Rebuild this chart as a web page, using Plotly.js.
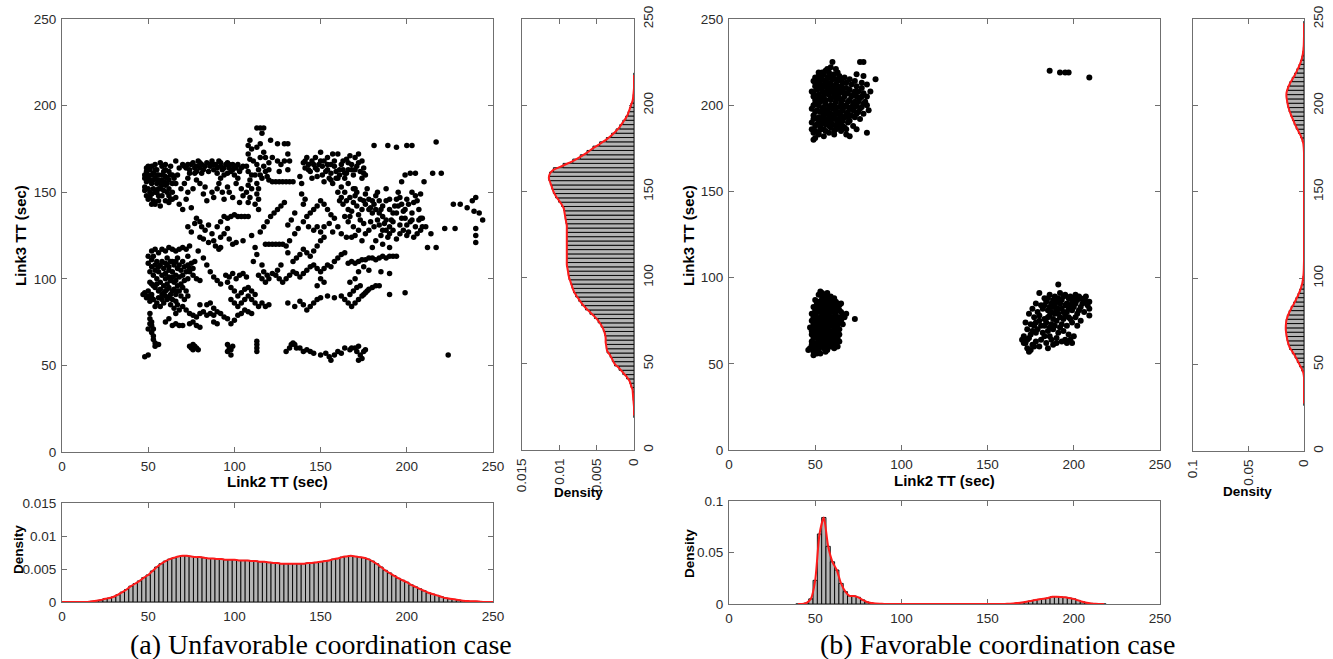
<!DOCTYPE html>
<html><head><meta charset="utf-8">
<script src="https://cdn.plot.ly/plotly-3.0.1.min.js"></script>
<style>html,body{margin:0;padding:0;background:#fff}#chart{width:1333px;height:659px}</style>
</head><body><div id="chart"></div>
<script>
// ---------- Panel (a): scatter Link2 TT vs Link3 TT ----------
const ptsA_upperLeft = [[48,160],[49,156],[50,152],[48,151],[51,163],[52,165],[53,161],[54,158],[55,163],[50,158],[52,155],[53,152],[55,150],[56,148],[51,147],[53,145],[56,145],[57,152],[58,160],[59,156],[60,163],[61,158],[62,152],[63,146],[57,167],[60,166],[62,162],[64,160],[49,148],[52,143],[54,143],[57,142],[58,148],[60,145],[61,150],[55,155],[56,160],[58,165],[63,165],[65,158],[66,155],[64,150],[62,144],[50,165],[54,166],[59,151],[66,147],[67,160],[68,164],[51,150],[48,153],[49,162],[50,160],[51,157],[52,160],[53,157],[54,163],[55,160],[56,157],[57,155],[58,157],[59,162],[60,159],[61,155],[62,157],[63,160],[64,155],[48,158],[49,164],[50,146],[52,149],[54,150],[56,152],[58,154],[60,154],[62,148],[64,146]];
const ptsA_topBand = [[70,166],[72,164],[74,163],[75,166],[76,167],[78,165],[79,168],[80,164],[81,166],[82,163],[84,167],[86,165],[88,163],[89,166],[91,168],[92,165],[93,163],[95,166],[96,167],[97,164],[98,162],[99,166],[101,164],[103,162],[105,165],[85,162],[77,161],[73,158],[71,155],[69,152],[73,150],[72,146],[75,141],[76,152],[80,155],[82,149],[83,153],[87,150],[88,147],[90,152],[91,155],[93,150],[94,146],[96,153],[97,150],[99,147],[101,155],[102,158],[68,143],[70,140],[84,145],[92,158],[78,157],[66,168],[87,168],[94,160],[100,160],[104,152],[105,148],[103,144],[71,165],[73,166],[77,164],[80,167],[83,165],[86,166],[88,166],[90,164],[92,167],[94,164],[97,166],[100,165],[102,166],[74,161],[78,162],[81,161],[90,161],[96,161],[99,163],[104,164]];
const ptsA_peak = [[113,187],[115,187],[117,187],[116,184],[109,180],[108,177],[110,175],[108,172],[109,169],[111,168],[107,165],[108,162],[110,160],[109,157],[108,154],[107,150],[109,147],[108,144],[113,166],[114,163],[115,160],[116,158],[117,165],[118,162],[119,159],[120,163],[118,170],[117,173],[113,176],[115,178],[121,180],[125,178],[129,178],[131,178],[120,157],[122,156],[124,156],[126,156],[128,156],[130,156],[132,156],[134,156],[113,155],[114,152],[113,149],[114,146],[122,170],[125,168],[127,166],[129,168],[131,172],[132,168],[131,163],[126,162],[120,167],[115,170],[112,160],[110,152],[112,143],[114,140]];
const ptsA_upperMid = [[140,167],[142,170],[141,164],[144,162],[146,166],[148,163],[150,173],[150,168],[151,165],[153,162],[154,166],[155,158],[156,161],[157,172],[158,165],[159,162],[160,172],[160,158],[161,160],[162,166],[163,163],[164,158],[165,161],[166,167],[167,171],[168,163],[169,160],[170,170],[171,165],[172,172],[173,162],[174,158],[175,164],[176,160],[152,156],[157,155],[162,153],[166,155],[170,152],[138,159],[139,155],[145,158],[148,159],[165,169],[154,170],[147,170],[143,166],[141,168],[143,163],[145,168],[147,164],[149,166],[152,168],[154,163],[156,166],[158,168],[159,158],[161,163],[163,168],[164,161],[166,163],[168,166],[170,163],[172,167],[174,168],[175,161],[151,160],[156,157]];
const ptsA_rightMid = [[160,150],[162,147],[163,143],[165,145],[166,140],[167,136],[168,139],[169,144],[170,148],[171,142],[172,137],[173,134],[174,140],[175,145],[176,149],[177,152],[178,146],[179,141],[180,138],[181,143],[182,148],[183,150],[184,145],[185,140],[186,136],[187,132],[188,128],[189,124],[190,130],[191,134],[192,138],[193,142],[194,146],[195,150],[196,147],[197,143],[198,139],[199,135],[200,131],[201,127],[202,133],[203,138],[204,144],[205,148],[206,145],[207,140],[208,135],[209,130],[185,125],[182,122],[178,128],[175,132],[172,128],[170,125],[168,124],[165,124],[174,122],[180,118],[186,120],[190,118],[194,123],[198,128],[200,146],[203,150],[188,152],[190,146],[197,156],[199,160],[202,161],[205,161],[210,156],[208,128],[206,126],[204,124],[161,145],[164,150],[167,147],[169,152],[171,150],[173,146],[176,143],[178,140],[180,145],[182,140],[184,138],[186,142],[188,145],[190,140],[192,133],[194,138],[195,142],[197,135],[199,140],[201,143],[203,134],[205,130],[207,134],[184,131],[186,128],[190,126],[192,128],[196,131],[200,125],[176,126],[179,133],[181,130],[183,134],[166,133],[169,130],[164,136],[188,134]];
const ptsA_farRight = [[181,177],[189,177],[194,176],[200,177],[203,177],[217,179],[215,161],[220,161],[212,118],[217,118],[211,130],[222,129],[228,129],[227,143],[231,143],[235,141],[238,145],[240,147],[239,139],[240,129],[240,125],[240,121],[244,134],[242,138],[224,56],[208,149],[209,135],[214,126],[196,126]];
const ptsA_middle = [[73,130],[75,127],[77,132],[78,135],[80,133],[81,130],[83,128],[85,131],[87,126],[88,122],[89,119],[91,117],[92,118],[85,121],[82,123],[80,124],[90,130],[92,133],[94,136],[96,135],[98,136],[100,137],[102,136],[104,136],[106,136],[108,136],[96,129],[94,126],[92,124],[97,123],[99,120],[101,121],[105,122],[110,125],[112,118],[113,114],[111,110],[115,127],[117,130],[119,133],[121,136],[123,138],[125,140],[127,142],[129,144],[118,120],[120,120],[122,120],[124,120],[126,120],[128,120],[130,119],[132,122],[135,126],[137,129],[140,133],[142,136],[144,138],[146,140],[148,142],[150,145],[152,143],[154,140],[156,137],[139,149],[140,143],[141,146],[143,130],[146,128],[148,130],[150,127],[152,124],[140,117],[142,115],[144,113],[146,116],[148,119],[150,122],[134,110],[136,112],[138,114],[131,115],[127,108],[125,105],[122,103],[119,102],[117,104],[116,108],[158,135],[160,130],[162,126],[135,138],[133,134],[131,131],[152,130],[155,132],[157,127]];
const ptsA_leftDense = [[52,116],[54,117],[56,115],[58,117],[60,116],[62,118],[64,117],[66,116],[68,117],[70,118],[72,117],[74,119],[53,113],[55,110],[57,108],[59,106],[61,108],[63,110],[65,108],[67,106],[69,105],[71,107],[73,108],[75,109],[77,110],[51,104],[53,102],[55,100],[57,98],[59,96],[61,97],[63,99],[65,98],[67,96],[69,97],[71,99],[73,100],[50,109],[52,107],[56,104],[58,102],[60,103],[62,105],[64,104],[66,102],[68,101],[70,102],[74,104],[76,102],[78,100],[80,99],[54,95],[56,93],[58,91],[60,93],[62,95],[64,93],[66,91],[68,93],[70,95],[72,93],[50,93],[52,91],[49,89],[51,87],[53,88],[55,86],[57,84],[59,86],[61,88],[63,85],[65,83],[67,85],[47,91],[52,97],[54,108],[61,112],[67,112],[73,113],[79,116],[82,112],[84,108],[86,104],[88,101],[90,99],[92,97],[50,113],[52,111],[54,105],[56,107],[58,110],[60,109],[62,107],[64,110],[66,110],[68,108],[70,110],[72,104],[74,106],[76,106],[51,98],[53,96],[55,97],[57,94],[59,92],[61,94],[63,91],[65,94],[67,93],[69,90],[71,88],[73,90],[50,90],[52,89],[54,84],[56,89],[58,88],[60,90],[62,89],[64,88],[66,87],[48,92],[60,100],[62,101],[64,101],[66,99]];
const ptsA_lowerMid = [[95,102],[97,101],[99,103],[101,100],[103,102],[105,103],[107,101],[96,98],[98,95],[100,93],[102,90],[104,92],[106,94],[108,95],[110,93],[112,91],[98,88],[100,86],[102,84],[104,86],[106,88],[108,90],[110,88],[112,86],[114,84],[116,86],[118,84],[120,85],[114,102],[116,100],[118,98],[120,100],[124,102],[126,100],[128,98],[130,100],[132,102],[134,104],[136,103],[138,101],[140,103],[142,105],[144,107],[146,108],[148,106],[150,104],[152,106],[154,108],[156,107],[158,110],[160,112],[162,114],[164,115],[150,100],[152,98],[148,96],[131,86],[135,84],[138,87],[140,85],[142,82],[144,84],[146,86],[148,88],[150,89],[154,90],[158,89],[162,90],[164,88],[166,86],[168,84],[170,86],[172,88],[174,90],[176,92],[178,94],[180,95],[182,96],[184,96],[167,91],[169,93],[171,95],[173,96],[175,91],[177,93],[190,91],[199,92],[166,109],[168,110],[170,109],[172,110],[174,111],[176,111],[178,112],[180,112],[182,111],[184,112],[186,113],[188,112],[190,113],[192,113],[194,113],[185,104],[190,103],[170,100],[167,98],[172,104],[175,107],[178,105]];
const ptsA_lowBand = [[72,82],[74,80],[76,79],[78,78],[80,80],[82,81],[84,79],[86,80],[88,79],[90,81],[92,80],[94,78],[96,77],[98,74],[100,76],[102,79],[104,80],[106,82],[108,81],[110,80],[74,74],[76,75],[78,73],[80,72],[88,75],[90,74],[64,73],[66,74],[68,73],[70,73],[60,75],[62,77],[84,85],[86,86],[88,83],[80,85],[66,80],[68,82],[70,84]];
const ptsA_leftStem = [[51,80],[51,77],[52,75],[52,73],[53,71],[52,69],[53,67],[53,65],[54,63],[54,61],[56,62],[48,55],[50,56],[50,71],[51,74]];
const ptsA_bottom = [[74,61],[75,60],[76,59],[77,61],[78,60],[79,59],[76,62],[96,62],[97,60],[98,59],[98,56],[96,58],[99,61],[113,64],[113,62],[113,60],[113,58],[130,58],[132,60],[133,62],[134,63],[135,62],[136,60],[138,60],[140,58],[142,59],[144,58],[146,57],[153,57],[155,55],[156,53],[158,56],[160,58],[162,57],[164,60],[167,59],[168,60],[170,60],[171,58],[172,61],[173,56],[174,54],[175,58],[176,59],[172,53],[150,56]];

// ---------- Panel (b): scatter clusters ----------
const ptsB_upperLeft = [[52,217],[55,218],[58,219],[61,218],[64,217],[67,216],[49,214],[51,215],[54,215],[57,216],[60,215],[63,214],[66,213],[70,215],[73,214],[78,217],[80,212],[50,211],[53,212],[56,212],[59,211],[62,212],[65,211],[68,210],[74,211],[77,213],[85,215],[48,208],[51,209],[54,208],[57,209],[60,208],[63,209],[66,208],[69,207],[72,206],[75,208],[78,207],[80,205],[49,205],[52,204],[55,205],[58,206],[61,205],[64,204],[67,205],[70,203],[73,202],[76,204],[79,202],[50,201],[53,202],[56,201],[59,200],[62,202],[65,201],[68,200],[71,199],[74,200],[77,199],[80,200],[48,198],[51,197],[54,198],[57,197],[60,198],[63,196],[66,197],[69,196],[72,197],[75,196],[78,195],[49,194],[52,193],[55,194],[58,193],[61,194],[64,192],[67,193],[70,191],[73,193],[76,192],[48,190],[51,189],[54,190],[57,191],[60,189],[63,190],[66,188],[69,190],[72,188],[48,186],[50,185],[53,186],[56,185],[59,187],[62,186],[65,185],[68,186],[50,181],[52,183],[55,182],[61,183],[70,182],[80,184],[49,180],[60,225],[76,225],[78,225],[57,221],[62,221],[52,219],[74,218],[77,210],[82,208],[81,197],[74,186],[68,183],[50,213],[53,210],[56,207],[59,204],[62,199],[55,196],[58,188],[64,195],[57,213],[60,211],[63,206],[54,192],[61,192],[51,203],[66,203],[58,216],[53,217],[64,210],[50,216],[53,214],[56,214],[59,213],[62,215],[65,215],[68,213],[71,212],[51,211],[54,210],[57,210],[60,209],[63,211],[66,210],[70,209],[73,208],[49,207],[52,206],[55,207],[58,208],[61,207],[64,207],[67,207],[71,205],[74,205],[77,205],[50,203],[53,204],[56,203],[59,203],[62,204],[65,203],[69,202],[72,201],[75,202],[78,201],[49,200],[52,200],[55,199],[58,199],[61,200],[64,199],[67,199],[70,198],[73,199],[76,198],[50,196],[53,196],[56,195],[59,195],[62,196],[65,194],[68,195],[71,194],[74,195],[49,192],[52,191],[55,192],[58,191],[60,193],[63,192],[66,191],[69,193],[50,188],[53,188],[56,189],[59,190],[62,188],[65,190],[67,187],[49,184],[52,184],[55,186],[58,184],[61,185],[64,187],[54,219],[60,217],[63,219],[56,220],[59,222]];
const ptsB_lowerLeft = [[53,92],[55,90],[57,91],[59,89],[61,88],[50,87],[52,86],[54,88],[56,87],[58,86],[60,85],[62,86],[64,84],[49,83],[51,82],[53,84],[55,83],[57,82],[59,83],[61,81],[63,82],[65,80],[48,79],[50,78],[52,80],[54,79],[56,78],[58,79],[60,77],[62,78],[64,77],[66,78],[68,79],[73,76],[48,75],[50,74],[52,76],[54,75],[56,74],[58,75],[60,73],[62,74],[64,75],[66,73],[47,71],[49,70],[51,72],[53,71],[55,70],[57,71],[59,69],[61,70],[63,71],[48,67],[50,66],[52,68],[54,67],[56,66],[58,67],[60,65],[62,66],[64,67],[48,63],[50,62],[52,64],[54,63],[56,62],[58,63],[60,61],[62,62],[64,63],[46,58],[49,59],[51,58],[53,60],[55,59],[57,58],[59,60],[61,59],[63,60],[49,55],[51,56],[50,57],[53,56],[52,90],[56,85],[58,81],[60,80],[52,73],[57,76],[55,68],[59,64],[53,61],[61,75],[63,69],[65,85],[54,91],[56,89],[58,88],[60,87],[51,85],[53,86],[55,85],[57,84],[59,84],[61,84],[63,85],[50,81],[52,82],[54,81],[56,80],[58,80],[60,82],[62,80],[64,81],[49,77],[51,76],[53,77],[55,77],[57,77],[59,76],[61,77],[63,76],[65,76],[67,77],[49,73],[51,74],[53,73],[55,72],[57,73],[59,72],[61,72],[63,73],[65,75],[48,69],[50,68],[52,70],[54,69],[56,68],[58,69],[60,68],[62,68],[64,70],[49,65],[51,66],[53,65],[55,64],[57,65],[59,66],[61,64],[63,65],[48,61],[50,60],[52,61],[54,61],[56,60],[58,61],[60,62],[62,60],[47,59],[52,58],[56,57],[49,57]];
const ptsB_right = [[180,91],[183,88],[186,90],[189,89],[192,91],[195,90],[198,89],[201,90],[204,88],[207,89],[209,86],[191,96],[178,85],[181,84],[184,86],[187,85],[190,86],[193,87],[196,85],[199,86],[202,87],[205,85],[208,84],[176,82],[179,80],[182,82],[185,81],[188,83],[191,82],[194,80],[197,82],[200,83],[203,81],[206,80],[209,82],[174,79],[177,77],[180,78],[183,76],[186,78],[189,79],[192,77],[195,78],[198,76],[201,77],[204,75],[209,78],[172,74],[175,73],[178,74],[181,72],[184,74],[187,73],[190,75],[193,73],[196,72],[199,74],[202,72],[171,66],[173,70],[176,69],[179,70],[182,68],[185,69],[188,70],[191,68],[194,69],[197,67],[200,66],[170,64],[172,62],[174,65],[176,61],[178,63],[181,64],[184,62],[187,64],[190,65],[193,63],[196,62],[198,64],[173,59],[175,58],[180,60],[185,59],[188,61],[174,57],[185,88],[188,87],[191,88],[194,89],[197,88],[200,88],[203,89],[206,87],[183,84],[186,83],[189,84],[192,85],[195,84],[198,84],[201,85],[204,83],[207,86],[187,80],[190,81],[193,82],[196,80],[199,81],[202,79],[185,77],[188,76],[191,79],[194,76],[197,77],[180,75],[183,72],[186,71],[189,72],[192,71],[178,68],[177,72],[175,67],[171,62],[173,64],[177,60],[183,66],[186,66],[190,62],[195,64],[199,62]];
const ptsB_topRight = [[186,220],[192,219],[195,219],[197,219],[209,216]];

// ---------- Densities (bins of 2.5 s) ----------
const binStep = 2.5;
const densA_link2_start = 0;
const densA_link2 = [0,0,0,0,0,0,0,0.0001,0.0002,0.0003,0.0005,0.0006,0.0008,0.0011,0.0015,0.0019,0.0024,0.0028,0.0032,0.0037,0.0041,0.0047,0.0053,0.0058,0.0062,0.0065,0.0067,0.0069,0.0070,0.0070,0.0069,0.0068,0.0068,0.0067,0.0066,0.0066,0.0065,0.0065,0.0064,0.0064,0.0064,0.0063,0.0063,0.0063,0.0062,0.0062,0.0061,0.0061,0.0060,0.0059,0.0059,0.0058,0.0058,0.0058,0.0058,0.0058,0.0058,0.0059,0.0059,0.0060,0.0061,0.0062,0.0063,0.0065,0.0066,0.0068,0.0069,0.0070,0.0069,0.0068,0.0067,0.0065,0.0062,0.0058,0.0053,0.0048,0.0044,0.0040,0.0036,0.0033,0.0030,0.0026,0.0023,0.0020,0.0017,0.0014,0.0012,0.0010,0.0008,0.0006,0.0005,0.0004,0.0003,0.0002,0.00015,0.0001,0.0001,0.00005,0,0,0];
const densA_link3_start = 20;
const densA_link3 = [0,0,0,0.00005,0.0001,0.00015,0.0002,0.0004,0.0006,0.0010,0.0015,0.0020,0.0026,0.0029,0.0032,0.0036,0.0037,0.0038,0.0038,0.0039,0.0041,0.0044,0.0048,0.0053,0.0059,0.0065,0.0070,0.0074,0.0078,0.0081,0.0083,0.0085,0.0087,0.0088,0.0089,0.0090,0.0090,0.0090,0.0090,0.0090,0.0090,0.0090,0.0090,0.0090,0.0090,0.0091,0.0092,0.0093,0.0094,0.0097,0.0101,0.0105,0.0108,0.0110,0.0112,0.0114,0.0113,0.0108,0.0095,0.0082,0.0072,0.0063,0.0055,0.0046,0.0037,0.0030,0.0024,0.0019,0.0015,0.0011,0.0008,0.0006,0.0004,0.0002,0.0001,0.00005,0,0,0,0];
const densB_link2_start = 40;
const densB_link2 = [0,0,0.001,0.005,0.023,0.068,0.084,0.056,0.041,0.033,0.020,0.012,0.0078,0.0078,0.0065,0.004,0.002,0.001,0.0004,0.0002,0.0001,0,0,0,0,0,0,0,0,0,0,0,0,0,0,0,0,0,0,0,0,0,0,0,0,0,0,0,0.0001,0.0003,0.0005,0.001,0.0015,0.0022,0.003,0.0038,0.0045,0.0052,0.0058,0.0070,0.0070,0.0068,0.0065,0.0058,0.005,0.0035,0.0022,0.0012,0.0006,0.0002,0.0001,0];
const densB_link3_start = 27.5;
const densB_link3 = [0,0,0,0,0,0,0,0.0005,0.002,0.004,0.006,0.008,0.0105,0.013,0.0143,0.0152,0.0159,0.0164,0.0164,0.016,0.015,0.0134,0.0115,0.0093,0.0073,0.0054,0.0038,0.0024,0.0014,0.0008,0.0004,0.0002,0.0001,0,0,0,0,0,0,0,0,0,0,0,0,0,0,0,0,0,0,0,0,0,0,0,0,0,0,0.0002,0.0005,0.0015,0.003,0.005,0.007,0.0088,0.0104,0.012,0.0134,0.0145,0.0152,0.0158,0.0157,0.0145,0.0128,0.0106,0.0084,0.0064,0.0045,0.003,0.0018,0.001,0.0005,0.0002,0.0001,0,0,0,0];

const axisTicks = [0,50,100,150,200,250];
const densTicksA = [0,0.005,0.01,0.015];
const densLabelsA = ['0','0.005','0.01','0.015'];
const densTicksB = [0,0.05,0.1];
const densLabelsB = ['0','0.05','0.1'];
const captions = ['(a) Unfavorable coordination case','(b) Favorable coordination case'];
const xTitle = 'Link2 TT (sec)', yTitle = 'Link3 TT (sec)', dTitle = 'Density';

// ---------- build ----------
const W = 1333, H = 659;
const fx = p => p / W, fy = p => 1 - p / H;
function xs(arrs){return [].concat(...arrs).map(p=>p[0]);}
function ys(arrs){return [].concat(...arrs).map(p=>p[1]);}
function bins(start, vals){return vals.map((v,i)=>start + i*binStep);}

const ptsA = [ptsA_upperLeft, ptsA_topBand, ptsA_peak, ptsA_upperMid, ptsA_rightMid, ptsA_farRight, ptsA_middle, ptsA_leftDense, ptsA_lowerMid, ptsA_lowBand, ptsA_leftStem, ptsA_bottom];
const ptsB = [ptsB_upperLeft, ptsB_lowerLeft, ptsB_right, ptsB_topRight];

const mkA = {color:'#000', size:5.5, symbol:'circle'};
const mkB = {color:'#000', size:6, symbol:'circle'};
const barMk = {color:'#b4b4b4', line:{color:'#000', width:0.9}};
const red = {color:'#ff1a1a', width:2, shape:'spline', smoothing:0.6};

const traces = [
  {type:'scatter', mode:'markers', x:xs(ptsA), y:ys(ptsA), marker:mkA, xaxis:'x', yaxis:'y'},
  {type:'bar', orientation:'h', y:bins(densA_link3_start,densA_link3), x:densA_link3, width:binStep, marker:barMk, xaxis:'x2', yaxis:'y2'},
  {type:'scatter', mode:'lines', y:bins(densA_link3_start,densA_link3), x:densA_link3, line:red, cliponaxis:false, xaxis:'x2', yaxis:'y2'},
  {type:'bar', x:bins(densA_link2_start,densA_link2), y:densA_link2, width:binStep, marker:barMk, xaxis:'x3', yaxis:'y3'},
  {type:'scatter', mode:'lines', x:bins(densA_link2_start,densA_link2), y:densA_link2, line:red, cliponaxis:false, xaxis:'x3', yaxis:'y3'},
  {type:'scatter', mode:'markers', x:xs(ptsB), y:ys(ptsB), marker:mkB, xaxis:'x4', yaxis:'y4'},
  {type:'bar', orientation:'h', y:bins(densB_link3_start,densB_link3), x:densB_link3, width:binStep, marker:barMk, xaxis:'x5', yaxis:'y5'},
  {type:'scatter', mode:'lines', y:bins(densB_link3_start,densB_link3), x:densB_link3, line:red, cliponaxis:false, xaxis:'x5', yaxis:'y5'},
  {type:'bar', x:bins(densB_link2_start,densB_link2), y:densB_link2, width:binStep, marker:barMk, xaxis:'x6', yaxis:'y6'},
  {type:'scatter', mode:'lines', x:bins(densB_link2_start,densB_link2), y:densB_link2, line:red, cliponaxis:false, xaxis:'x6', yaxis:'y6'}
];

const tickFont = {family:'Arial, "Liberation Sans", sans-serif', size:13.5, color:'#2b2b2b'};
function ax(extra){
  return Object.assign({showline:true, linecolor:'#6f6f6f', linewidth:1, mirror:'ticks', ticks:'inside', ticklen:5, tickcolor:'#6f6f6f',
    showgrid:false, zeroline:false, tickfont:tickFont, fixedrange:true, automargin:false, ticklabelstandoff:2, layer:'below traces'}, extra);
}
const scatX = {range:[0,250], tickvals:axisTicks};
const layout = {
  width:W, height:H, margin:{l:0,r:0,t:0,b:0}, paper_bgcolor:'#fff', plot_bgcolor:'#fff', showlegend:false, bargap:0,
  xaxis: ax(Object.assign({domain:[fx(62),fx(493)], anchor:'y'}, scatX)),
  yaxis: ax({domain:[fy(452),fy(19)], anchor:'x', range:[0,250], tickvals:axisTicks}),
  xaxis2: ax({domain:[fx(522),fx(634)], anchor:'y2', range:[0.015,0], tickvals:densTicksA, ticktext:densLabelsA, tickangle:-90}),
  yaxis2: ax({domain:[fy(450),fy(19)], anchor:'x2', side:'right', range:[0,250], tickvals:axisTicks, tickangle:-90}),
  xaxis3: ax(Object.assign({domain:[fx(62),fx(493)], anchor:'y3'}, scatX)),
  yaxis3: ax({domain:[fy(602),fy(503)], anchor:'x3', range:[0,0.015], tickvals:densTicksA, ticktext:densLabelsA}),
  xaxis4: ax(Object.assign({domain:[fx(729),fx(1160)], anchor:'y4'}, scatX)),
  yaxis4: ax({domain:[fy(450),fy(19)], anchor:'x4', range:[0,250], tickvals:axisTicks}),
  xaxis5: ax({domain:[fx(1193),fx(1304)], anchor:'y5', range:[0.1,0], tickvals:densTicksB, ticktext:densLabelsB, tickangle:-90}),
  yaxis5: ax({domain:[fy(451),fy(19)], anchor:'x5', side:'right', range:[0,250], tickvals:axisTicks, tickangle:-90}),
  xaxis6: ax(Object.assign({domain:[fx(729),fx(1160)], anchor:'y6'}, scatX)),
  yaxis6: ax({domain:[fy(604),fy(501)], anchor:'x6', range:[0,0.1], tickvals:densTicksB, ticktext:densLabelsB}),
  annotations: []
};
const tFont = {family:'Arial, "Liberation Sans", sans-serif', size:15, color:'#000', weight:'bold'};
const dFont = {family:'Arial, "Liberation Sans", sans-serif', size:13.5, color:'#000', weight:'bold'};
const capFont = {family:'"Liberation Serif", "Times New Roman", serif', size:28, color:'#000'};
function ann(text, px, py, font, angle){
  layout.annotations.push({text:'<b>'+text+'</b>', x:fx(px), y:fy(py), xref:'paper', yref:'paper', showarrow:false, xanchor:'center', yanchor:'middle', font:font, textangle:angle||0});
}
ann(xTitle, 277, 481, tFont); ann(xTitle, 944, 480, tFont);
ann(yTitle, 20, 236, tFont, -90); ann(yTitle, 688, 236, tFont, -90);
ann(dTitle, 578, 493, dFont); ann(dTitle, 1247, 492, dFont);
ann(dTitle, 18, 550, dFont, -90); ann(dTitle, 689, 554, dFont, -90);
layout.annotations.push({text:captions[0], x:fx(321), y:fy(644), xref:'paper', yref:'paper', showarrow:false, xanchor:'center', yanchor:'middle', font:capFont});
layout.annotations.push({text:captions[1], x:fx(998), y:fy(644), xref:'paper', yref:'paper', showarrow:false, xanchor:'center', yanchor:'middle', font:capFont});

Plotly.newPlot('chart', traces, layout, {staticPlot:true, displayModeBar:false});
</script></body></html>
